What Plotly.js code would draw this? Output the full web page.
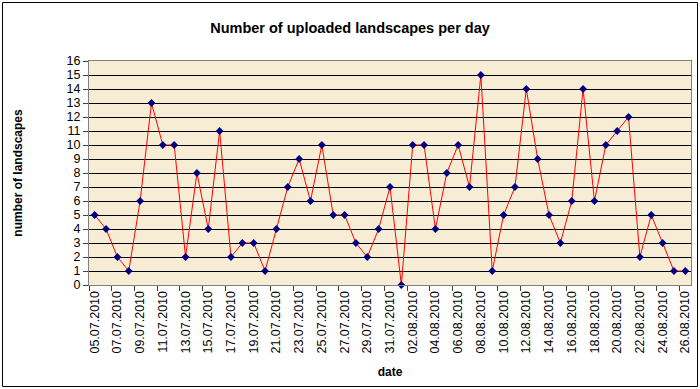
<!DOCTYPE html>
<html>
<head>
<meta charset="utf-8">
<script src="https://cdn.plot.ly/plotly-3.0.1.min.js"></script>
<style>
html,body{margin:0;padding:0;background:#fff;}
#chart{width:700px;height:389px;}
</style>
</head>
<body>
<div id="chart"></div>
<script>
const dates = [
  "05.07.2010","06.07.2010","07.07.2010","08.07.2010","09.07.2010","10.07.2010","11.07.2010",
  "12.07.2010","13.07.2010","14.07.2010","15.07.2010","16.07.2010","17.07.2010","18.07.2010",
  "19.07.2010","20.07.2010","21.07.2010","22.07.2010","23.07.2010","24.07.2010","25.07.2010",
  "26.07.2010","27.07.2010","28.07.2010","29.07.2010","30.07.2010","31.07.2010",
  "01.08.2010","02.08.2010","03.08.2010","04.08.2010","05.08.2010","06.08.2010","07.08.2010",
  "08.08.2010","09.08.2010","10.08.2010","11.08.2010","12.08.2010","13.08.2010","14.08.2010",
  "15.08.2010","16.08.2010","17.08.2010","18.08.2010","19.08.2010","20.08.2010","21.08.2010",
  "22.08.2010","23.08.2010","24.08.2010","25.08.2010","26.08.2010"
];
const uploads = [
  5,4,2,1,6,13,10,10,2,8,4,11,2,3,3,1,4,7,9,6,10,5,5,3,2,4,7,
  0,10,10,4,8,10,7,15,1,5,7,14,9,5,3,6,14,6,10,11,12,2,5,3,1,1
];
const yTicks = [0,1,2,3,4,5,6,7,8,9,10,11,12,13,14,15,16];

const FONT = "Arial, 'Liberation Sans', sans-serif";

const trace = {
  type: "scatter",
  mode: "lines+markers",
  x: dates,
  y: uploads,
  line: {color: "#ff0000", width: 1},
  marker: {symbol: "diamond", size: 6, color: "#000080", line: {width: 0}},
  cliponaxis: false,
  hoverinfo: "x+y"
};

const L = 89, R = 9, T = 61, B = 104;
const pw = 700 - L - R, ph = 389 - T - B;

const layout = {
  width: 700, height: 389,
  margin: {l: L, r: R, t: T, b: B, pad: 0},
  paper_bgcolor: "#ffffff",
  plot_bgcolor: "#f6edd4",
  font: {family: FONT, size: 12, color: "#000"},
  showlegend: false,
  title: {
    text: "<b>Number of uploaded landscapes per day</b>",
    font: {family: FONT, size: 14.5, color: "#000"},
    x: 0.5, xref: "container", xanchor: "center",
    y: 1 - 28/389, yref: "container", yanchor: "middle"
  },
  xaxis: {
    type: "category",
    range: [-0.5, dates.length - 0.5],
    dtick: 2,
    tickson: "boundaries",
    tickangle: -90,
    ticks: "outside", ticklen: 5, tickcolor: "#404040",
    showline: true, linecolor: "#808080", linewidth: 1, mirror: true,
    showgrid: false, zeroline: false,
    tickfont: {family: FONT, size: 12.5, color: "#000"},
    automargin: false,
    title: {text: "<b>date</b>", font: {family: FONT, size: 12, color: "#000"}, standoff: 15}
  },
  yaxis: {
    range: [0, 16],
    tickvals: yTicks,
    ticktext: yTicks.map(String),
    ticks: "outside", ticklen: 5, tickcolor: "#404040",
    showline: true, linecolor: "#808080", linewidth: 1, mirror: true,
    showgrid: true, gridcolor: "#000000", gridwidth: 1,
    zeroline: false,
    tickfont: {family: FONT, size: 12.5, color: "#000"},
    automargin: false,
    title: {text: "<b>number of landscapes</b>", font: {family: FONT, size: 12, color: "#000"}, standoff: 41}
  },
  shapes: [{
    type: "rect", xref: "paper", yref: "paper", layer: "above",
    x0: (2.5 - L) / pw, x1: (697.5 - L) / pw,
    y0: (389 - B - 386.5) / ph, y1: (389 - B - 2.5) / ph,
    line: {color: "#000", width: 1}, fillcolor: "rgba(0,0,0,0)"
  }]
};

Plotly.newPlot("chart", [trace], layout, {displayModeBar: false, staticPlot: true});
</script>
</body>
</html>
